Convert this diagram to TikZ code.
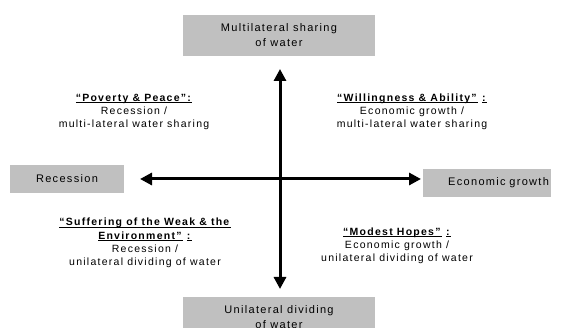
\documentclass[tikz,border=0pt]{standalone}
\usepackage{fontspec}
\setmainfont{Liberation Sans}[LetterSpace=12]
\usetikzlibrary{arrows.meta}
\definecolor{boxgray}{RGB}{192,192,192}
\newcommand{\ttl}[1]{\setbox0\hbox{\textbf{#1}}\rlap{\rule[-1.7pt]{\wd0}{0.9pt}}\box0\relax}

\begin{document}
\begin{tikzpicture}[x=1pt,y=-1pt]
                        \tikzstyle{pole}=[fill=boxgray, inner sep=0pt, align=center,
                                          font=\fontsize{11}{15}\selectfont]
                        \tikzstyle{quadrant}=[align=center, inner sep=0pt,
                                              font=\fontsize{10.5}{13.2}\selectfont]
                        \tikzstyle{axis}=[line width=3pt, >={Triangle[length=12pt,width=12pt]}]
                        \clip (0,0) rectangle (566,328);
                        % the four poles
                        \node[pole, minimum width=192pt, minimum height=41pt] (sharing) at (279,35.5)
                            {Multilateral sharing\\of water};
                        \node[pole, minimum width=192pt, minimum height=41pt] (dividing) at (279,317.5)
                            {Unilateral dividing\\of water};
                        \node[pole, minimum width=114pt, minimum height=28pt] (recession) at (67,179)
                            {Recession};
                        \node[pole, text width=124pt, inner xsep=2pt, align=right,
                              minimum height=28pt] (growth) at (487,183)
                            {Economic growth};
                        % axes
                        \coordinate (westtip) at (140,179);
                        \coordinate (easttip) at (421,179);
                        \coordinate (northtip) at (280,69);
                        \coordinate (southtip) at (280,289);
                        \draw[axis,<->] (westtip) -- (easttip);
                        \draw[axis,<->] (northtip) -- (southtip);
                        % the four scenarios
                        \node[quadrant] (peace) at (134,112)
                            {\ttl{“Poverty \& Peace”:}\\Recession /\\multi-lateral water sharing};
                        \node[quadrant] (ability) at (412,112)
                            {\ttl{“Willingness \& Ability”} \ttl{:}\\Economic growth /\\multi-lateral water sharing};
                        \node[quadrant] (weak) at (145,243)
                            {\ttl{“Suffering of the Weak \& the}\\\ttl{Environment”} \ttl{:}\\Recession /\\unilateral dividing of water};
                        \node[quadrant] (hopes) at (397,245.5)
                            {\ttl{“Modest Hopes”} \ttl{:}\\Economic growth /\\unilateral dividing of water};
                    \end{tikzpicture}
\end{document}
